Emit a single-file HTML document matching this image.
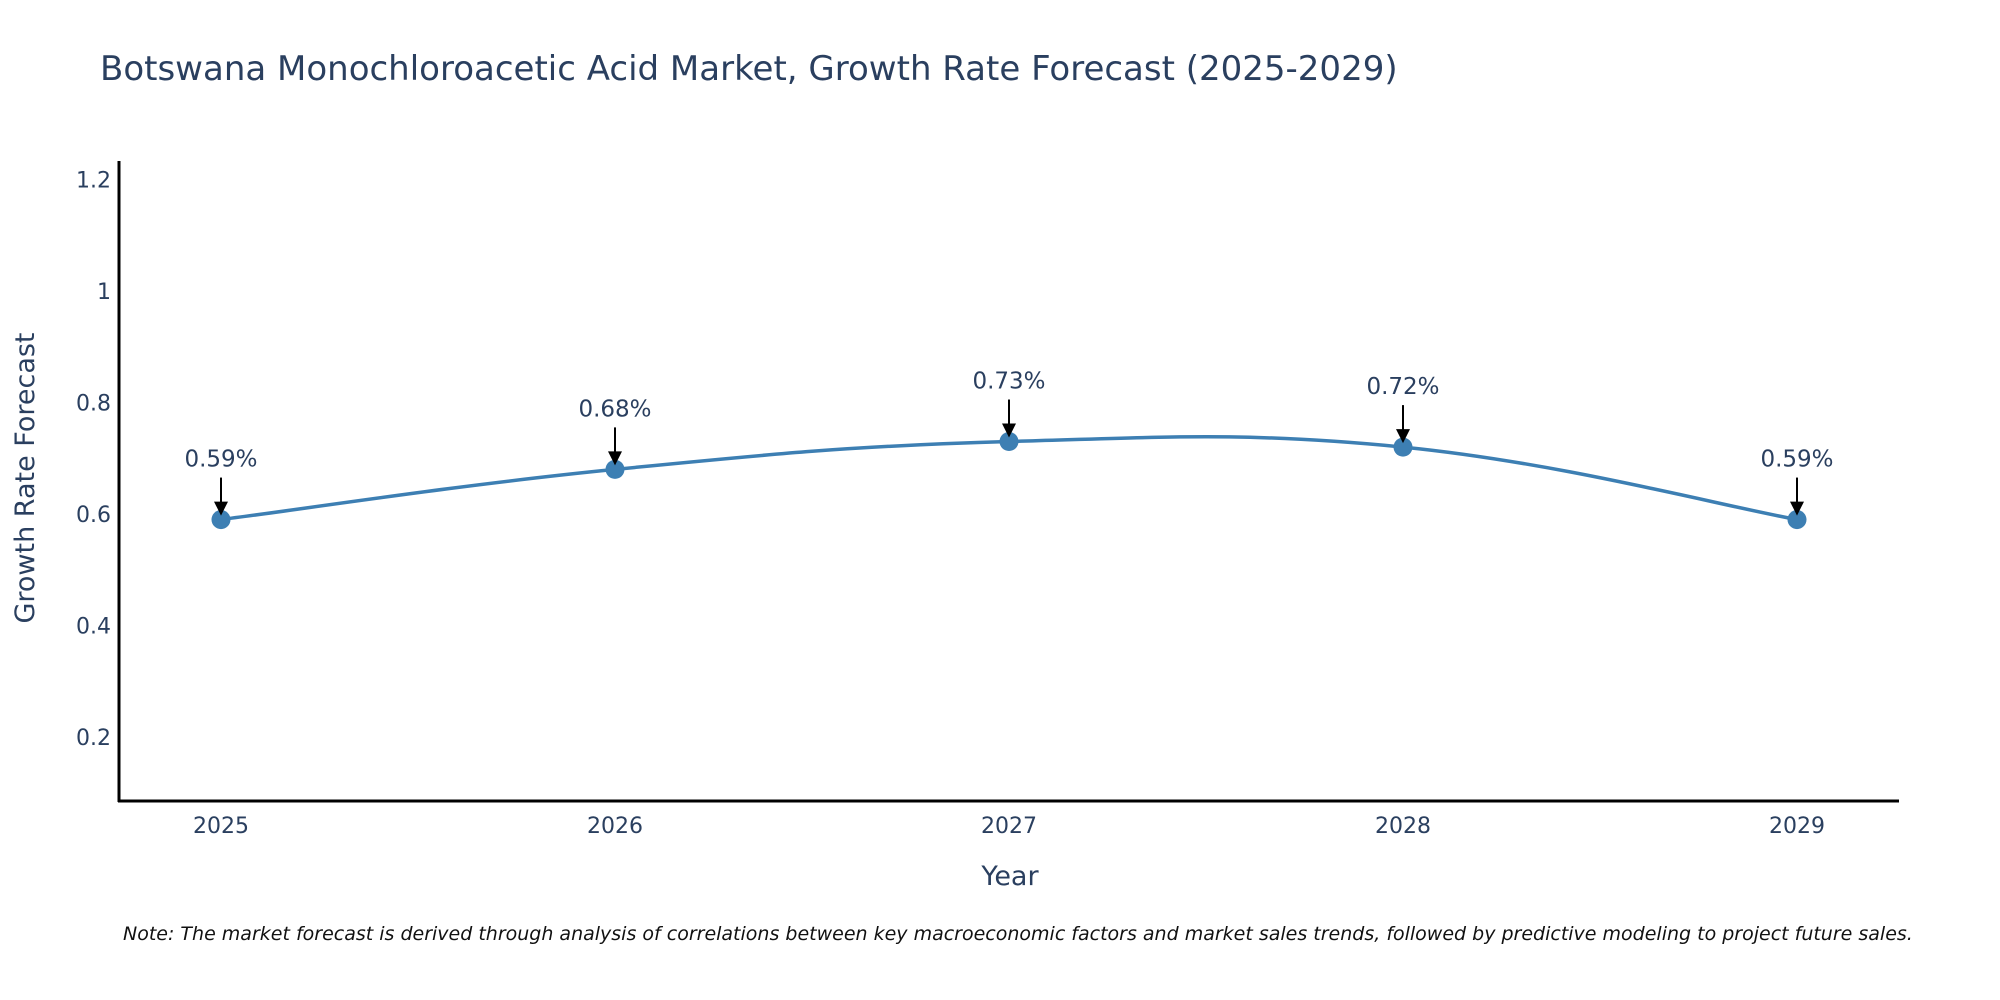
<!DOCTYPE html>
<html><head><meta charset="utf-8"><style>
body{margin:0;background:#fff;}
svg{display:block;font-family:"DejaVu Sans","Liberation Sans",sans-serif;}
</style></head><body>
<svg id="chart" width="2000" height="1000" viewBox="0 0 2000 1000">
<text x="100" y="80" font-size="34" fill="#2a3f5f">Botswana Monochloroacetic Acid Market, Growth Rate Forecast (2025-2029)</text>
<g id="yticks"></g>
<g id="xticks"></g>
<line x1="119" y1="161" x2="119" y2="802" stroke="#000" stroke-width="3"/>
<line x1="118" y1="801" x2="1899" y2="801" stroke="#000" stroke-width="3"/>
<path id="series-line" fill="none" stroke="#3d7fb3" stroke-width="3.5"/>
<g id="points"></g>
<text x="1010" y="885" font-size="27" fill="#2a3f5f" text-anchor="middle">Year</text>
<text transform="translate(34,478) rotate(-90)" font-size="27" fill="#2a3f5f" text-anchor="middle">Growth Rate Forecast</text>
<text x="123" y="940" font-size="19" font-style="italic" fill="#111">Note: The market forecast is derived through analysis of correlations between key macroeconomic factors and market sales trends, followed by predictive modeling to project future sales.</text>
</svg>
<script>
const years = ["2025","2026","2027","2028","2029"];
const values = [0.59, 0.68, 0.73, 0.72, 0.59];
const labels = ["0.59%","0.68%","0.73%","0.72%","0.59%"];
const yTicks = [0.2, 0.4, 0.6, 0.8, 1, 1.2];
const yTickLabels = ["0.2","0.4","0.6","0.8","1","1.2"];

const NS = "http://www.w3.org/2000/svg";
function xPos(i){ return 221 + i * (1797 - 221) / (years.length - 1); }
function yPos(v){ return 514 - (v - 0.6) * 557.5; }
function mk(tag, attrs, parent){ const e = document.createElementNS(NS, tag); for (const k in attrs) e.setAttribute(k, attrs[k]); parent.appendChild(e); return e; }

const yg = document.getElementById('yticks');
yTicks.forEach((v, i) => {
  const t = mk('text', {x: 111, y: yPos(v) + 8, 'font-size': 22, fill: '#2a3f5f', 'text-anchor': 'end'}, yg);
  
  
  t.textContent = yTickLabels[i];
});
const xg = document.getElementById('xticks');
years.forEach((y, i) => {
  const t = mk('text', {x: xPos(i), y: 833, 'font-size': 22, fill: '#2a3f5f', 'text-anchor': 'middle'}, xg);
  
  
  t.textContent = y;
});

const pts = values.map((v, i) => [xPos(i), yPos(v)]);
let d = `M${pts[0][0]},${pts[0][1]}`;
const s = 0.2;
for (let i = 0; i < pts.length - 1; i++) {
  const p0 = pts[Math.max(0, i - 1)], p1 = pts[i], p2 = pts[i + 1], p3 = pts[Math.min(pts.length - 1, i + 2)];
  const c1 = [p1[0] + (p2[0] - p0[0]) * s, p1[1] + (p2[1] - p0[1]) * s];
  const c2 = [p2[0] - (p3[0] - p1[0]) * s, p2[1] - (p3[1] - p1[1]) * s];
  d += ` C${c1[0]},${c1[1]} ${c2[0]},${c2[1]} ${p2[0]},${p2[1]}`;
}
document.getElementById('series-line').setAttribute('d', d);

const pg = document.getElementById('points');
pts.forEach((p, i) => {
  const c = mk('circle', {cx: p[0], cy: p[1], r: 9.5, fill: '#3d7fb3'}, pg);
  
  
  const l = mk('line', {x1: p[0], y1: p[1] - 42, x2: p[0], y2: p[1] - 14, stroke: '#000', 'stroke-width': 2}, pg);
  
  
  const a = mk('polygon', {points: `${p[0]-7},${p[1]-18} ${p[0]+7},${p[1]-18} ${p[0]},${p[1]-4}`, fill: '#000'}, pg);
  
  
  const t = mk('text', {x: p[0], y: p[1] - 53, 'font-size': 23, fill: '#2a3f5f', 'text-anchor': 'middle'}, pg);
  
  
  t.textContent = labels[i];
});
</script>
</body></html>
